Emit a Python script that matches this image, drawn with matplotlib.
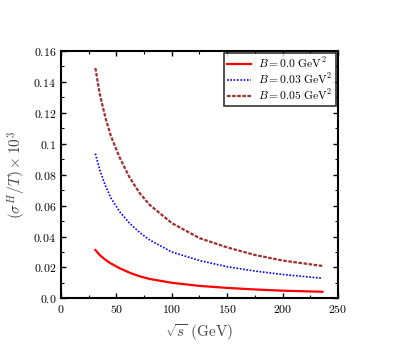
import numpy as np
import matplotlib
matplotlib.use('Agg')
import matplotlib.pyplot as plt
from matplotlib.ticker import MultipleLocator, FixedLocator, FixedFormatter

plt.rcParams['mathtext.fontset'] = 'cm'
plt.rcParams['font.family'] = 'serif'
plt.rcParams['font.serif'] = ['DejaVu Serif']

# values
sqrt_s = [31, 35, 40, 45, 53, 62, 71, 80, 100, 125, 150, 175, 200, 236]
b000 = [0.0313, 0.0280, 0.0250, 0.0226, 0.0195, 0.0166, 0.0143, 0.0126, 0.0101, 0.0081, 0.0068, 0.0058, 0.0050, 0.0043]
b003 = [0.0936, 0.0830, 0.0730, 0.0650, 0.0560, 0.0485, 0.0426, 0.0378, 0.0300, 0.0245, 0.0205, 0.0177, 0.0155, 0.0130]
b005 = [0.1490, 0.1320, 0.1170, 0.1050, 0.0910, 0.0780, 0.0681, 0.0605, 0.0487, 0.0390, 0.0330, 0.0281, 0.0245, 0.0210]

xticks = [0, 50, 100, 150, 200, 250]
yticks = [0.0, 0.02, 0.04, 0.06, 0.08, 0.1, 0.12, 0.14, 0.16]
ytick_labels = ['0.0', '0.02', '0.04', '0.06', '0.08', '0.1', '0.12', '0.14', '0.16']

fig = plt.figure(figsize=(3.99, 3.54), dpi=100)
ax = fig.add_axes([0.153, 0.157, 0.694, 0.699])

ax.plot(sqrt_s, b000, color='#ff0000', lw=1.6, label=r'$B = 0.0\ \mathrm{GeV}^2$')
ax.plot(sqrt_s, b003, color='#0000ff', lw=1.2, ls=(0, (1, 1)), label=r'$B = 0.03\ \mathrm{GeV}^2$')
ax.plot(sqrt_s, b005, color='#a03030', lw=1.6, ls=(0, (1.6, 0.7)), label=r'$B = 0.05\ \mathrm{GeV}^2$')

ax.set_xlim(0, 250)
ax.set_ylim(0, 0.16)
ax.xaxis.set_major_locator(FixedLocator(xticks))
ax.xaxis.set_major_formatter(FixedFormatter(['$%d$' % v for v in xticks]))
ax.yaxis.set_major_locator(FixedLocator(yticks))
ax.yaxis.set_major_formatter(FixedFormatter(['$%s$' % t for t in ytick_labels]))
ax.xaxis.set_minor_locator(MultipleLocator(25))
ax.yaxis.set_minor_locator(MultipleLocator(0.01))
ax.tick_params(which='both', direction='in', top=True, right=True, labelsize=8.5, color='black')
ax.tick_params(which='major', length=3.5, width=1)
ax.tick_params(which='minor', length=2, width=0.8)
for sp in ax.spines.values():
    sp.set_linewidth(1.5)

ax.set_xlabel(r'$\sqrt{s}\ (\mathrm{GeV})$', fontsize=11, color='#444444')
ax.set_ylabel(r'$(\sigma^H/T) \times 10^3$', fontsize=11, color='#444444')

leg = ax.legend(loc='upper right', fontsize=8.3, frameon=True, fancybox=False,
                borderaxespad=0.15, handlelength=2.1, handletextpad=0.6,
                labelspacing=0.1, borderpad=0.3)
leg.get_frame().set_edgecolor('black')
leg.get_frame().set_linewidth(1.2)

fig.savefig('out.png', dpi=100)
